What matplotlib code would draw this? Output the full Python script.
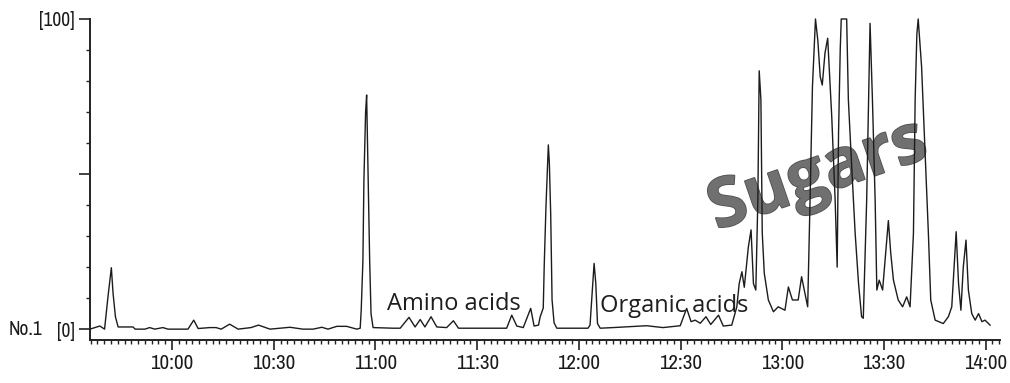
import matplotlib
matplotlib.use("Agg")
import matplotlib.pyplot as plt
import matplotlib.patheffects as pe
from matplotlib import font_manager
from matplotlib.ticker import MultipleLocator, FixedLocator, FuncFormatter

# retention time in minutes after midnight, detector response in %
minutes = [
    575.8, 578.7, 580.1, 581.1, 582.1, 582.6, 583.3, 584.1, 588.5, 589.1,
    592.0, 593.4, 594.9, 597.3, 598.8, 604.7, 606.4, 607.7, 611.2, 613.0,
    614.5, 617.0, 619.5, 623.3, 625.5, 628.9, 634.8, 638.6, 641.6, 644.2,
    646.0, 648.6, 651.5, 654.5, 655.5, 655.8, 656.3, 656.6, 657.1, 657.4,
    657.8, 658.3, 658.7, 659.3, 665.2, 667.3, 669.9, 671.7, 673.2, 674.6,
    676.4, 678.1, 681.0, 683.0, 684.5, 698.7, 700.2, 701.7, 703.6, 705.8,
    706.8, 708.1, 708.6, 709.5, 709.8, 710.3, 711.0, 711.3, 711.7, 712.1,
    712.7, 713.5, 717.4, 722.7, 723.3, 723.8, 724.5, 725.0, 725.5, 726.3,
    730.1, 740.0, 744.8, 749.9, 751.8, 753.1, 754.3, 755.8, 757.5, 758.9,
    761.2, 762.6, 765.1, 766.6, 767.3, 768.1, 768.8, 770.0, 770.8, 771.5,
    772.2, 772.8, 773.2, 773.7, 774.1, 774.7, 775.9, 777.4, 778.8, 780.8,
    781.8, 783.0, 784.7, 785.7, 786.7, 787.5, 788.2, 788.9, 789.8, 790.5,
    791.2, 791.8, 792.6, 793.4, 794.6, 795.6, 796.2, 796.6, 797.1, 797.4,
    799.0, 799.5, 800.5, 801.5, 802.5, 803.4, 803.9, 804.9, 805.9, 806.6,
    807.4, 807.9, 808.6, 809.6, 811.3, 812.0, 812.8, 814.2, 815.5, 816.7,
    817.7, 818.7, 819.2, 819.7, 820.1, 821.1, 822.1, 823.1, 823.8, 825.1,
    827.5, 829.0, 830.0, 831.3, 832.0, 832.7, 833.4, 834.2, 834.9, 835.9,
    836.9, 837.9, 838.9, 839.8, 841.3,
]
response = [
    0.0, 1.0, 0.0, 10.4, 19.8, 11.6, 4.0, 0.7, 0.7, 0.0,
    0.0, 0.5, 0.0, 0.5, 0.0, 0.0, 2.9, 0.2, 0.5, 0.5,
    0.0, 1.6, 0.0, 0.5, 1.3, 0.0, 0.6, 0.0, 0.0, 0.6,
    0.0, 0.9, 0.9, 0.0, 0.3, 6.0, 22.0, 48.0, 70.0, 75.5,
    52.0, 22.0, 5.0, 0.5, 0.3, 0.3, 3.8, 0.7, 3.1, 0.7,
    4.0, 0.7, 0.5, 2.7, 0.3, 0.3, 4.5, 1.0, 0.5, 6.7,
    1.0, 1.3, 4.0, 6.8, 21.0, 39.5, 59.4, 53.5, 37.0, 9.4,
    2.0, 0.3, 0.3, 0.3, 1.3, 9.4, 21.2, 14.7, 1.8, 0.3,
    0.5, 1.1, 0.5, 1.1, 6.7, 2.4, 2.9, 1.9, 4.0, 1.5,
    4.5, 1.0, 1.3, 7.2, 14.7, 18.5, 13.5, 26.5, 32.0, 14.7,
    12.6, 41.6, 83.3, 74.0, 31.0, 18.0, 9.4, 5.6, 7.2, 6.1,
    13.6, 9.4, 9.4, 16.9, 11.5, 7.2, 41.6, 78.0, 100.0, 93.0,
    81.4, 78.7, 89.0, 93.8, 68.5, 41.6, 20.0, 63.0, 90.0, 100.0,
    100.0, 74.0, 52.0, 31.0, 14.8, 4.0, 3.5, 41.6, 98.6, 74.0,
    41.6, 12.6, 15.8, 12.6, 35.0, 24.5, 15.8, 9.4, 7.2, 10.4,
    7.2, 31.0, 74.0, 95.0, 100.0, 84.6, 57.7, 31.0, 9.4, 2.9,
    1.8, 4.0, 7.2, 31.4, 14.7, 6.1, 20.0, 28.7, 12.6, 5.0,
    2.9, 5.0, 2.4, 2.9, 1.3,
]

hour_ticks = [600, 630, 660, 690, 720, 750, 780, 810, 840]
level_ticks = [0, 50, 100]
level_labels = ['[0]', '', '[100]']

# pick a condensed face for the axis numbers if one is available
installed = {(f.name, f.stretch) for f in font_manager.fontManager.ttflist}
narrow = font_manager.FontProperties(family='Liberation Sans', size=12.5)
for name, stretch in sorted(installed):
    if 'Narrow' in name or 'Condensed' in name or stretch in ('condensed',
                                                              'semi-condensed'):
        narrow = font_manager.FontProperties(family=name, stretch=stretch,
                                             size=14)
        break
narrow_x = narrow.copy()
narrow_x.set_size(narrow.get_size() + 1)
label_font = ['Open Sans', 'DejaVu Sans']

fig = plt.figure(figsize=(10.10, 3.83), dpi=100)
ax = fig.add_axes([0.0891, 0.1123, 0.9009, 0.8381])

ax.plot(minutes, response, color='#1c1c1c', lw=1.0, zorder=3, clip_on=False)

ax.set_xlim(575.8, 844.2)
ax.set_ylim(-3.5, 100)

for side in ('top', 'right'):
    ax.spines[side].set_visible(False)
for side in ('left', 'bottom'):
    ax.spines[side].set_linewidth(1.4)
    ax.spines[side].set_color('#222222')

ax.xaxis.set_major_locator(FixedLocator(hour_ticks))
ax.xaxis.set_minor_locator(MultipleLocator(2))
ax.xaxis.set_major_formatter(
    FuncFormatter(lambda v, p: f'{int(v) // 60}:{int(v) % 60:02d}'))
ax.yaxis.set_major_locator(FixedLocator(level_ticks))
ax.yaxis.set_minor_locator(MultipleLocator(10))
ax.set_yticklabels(level_labels)

ax.tick_params(axis='x', which='major', length=7, width=1.2, pad=3,
               color='#222222')
ax.tick_params(axis='x', which='minor', length=3, width=1.0, color='#222222')
ax.tick_params(axis='y', which='major', length=8, width=1.2, pad=3,
               color='#222222')
ax.tick_params(axis='y', which='minor', length=3, width=1.0, color='#222222')
for lab in ax.get_xticklabels():
    lab.set_fontproperties(narrow_x)
    lab.set_color('#1a1a1a')
for lab in ax.get_yticklabels():
    lab.set_fontproperties(narrow)
    lab.set_color('#1a1a1a')

fig.text(0.009, 0.14, 'No.1', fontproperties=narrow, color='#1a1a1a',
         ha='left', va='center')

ax.text(0.326, 0.0935, 'Amino acids', transform=ax.transAxes, family=label_font,
        fontsize=17, color='#1e1e1e', ha='left', va='baseline', zorder=2)
ax.text(0.561, 0.088, 'Organic acids', transform=ax.transAxes,
        family=label_font, fontsize=17, color='#1e1e1e', ha='left',
        va='baseline', zorder=2)
ax.text(0.80, 0.51, 'Sugars', transform=ax.transAxes, family=label_font,
        fontsize=49, fontweight='bold', color='#707070', rotation=19,
        rotation_mode='anchor', ha='center', va='center', zorder=1,
        path_effects=[pe.withStroke(linewidth=1.2, foreground='#505050')])

fig.savefig('out.png', dpi=100)
